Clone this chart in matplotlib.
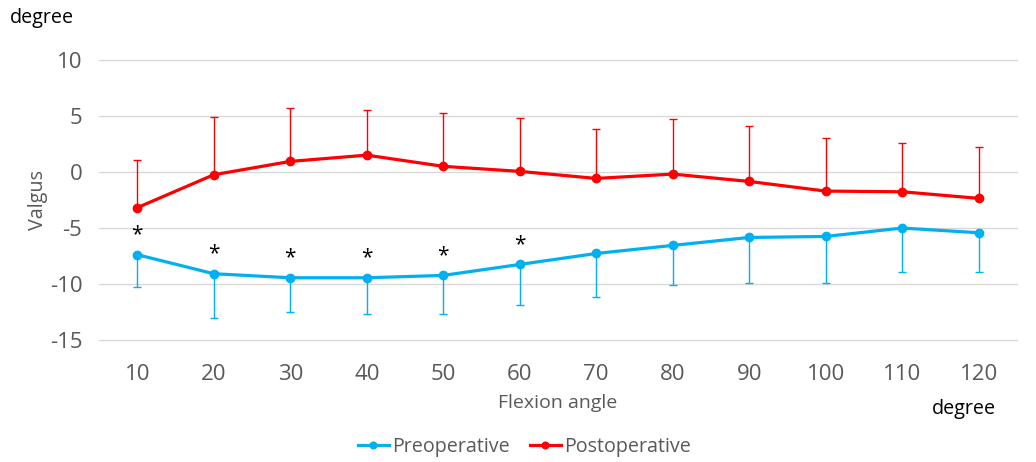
import numpy as np
import matplotlib.pyplot as plt

plt.rcParams['font.family'] = ['Open Sans', 'DejaVu Sans']
plt.rcParams['axes.unicode_minus'] = False

# Datos
angles = [10, 20, 30, 40, 50, 60, 70, 80, 90, 100, 110, 120]
pre_mean = [-7.38, -9.08, -9.44, -9.44, -9.23, -8.25, -7.27, -6.55, -5.84, -5.75, -5.0, -5.42]
pre_sd = [2.89, 3.99, 3.10, 3.24, 3.45, 3.63, 3.86, 3.58, 4.07, 4.20, 3.93, 3.51]
post_mean = [-3.18, -0.24, 0.95, 1.51, 0.51, 0.06, -0.57, -0.18, -0.84, -1.70, -1.76, -2.35]
post_sd = [4.22, 5.12, 4.79, 4.02, 4.76, 4.73, 4.37, 4.94, 4.91, 4.74, 4.31, 4.58]
signif = [10, 20, 30, 40, 50, 60]

blue = '#00B0F0'
red = '#FF0000'
grey = '#595959'

fig = plt.figure(figsize=(10.36, 4.62), dpi=100)
ax = fig.add_axes([0.0956, 0.264, 0.886, 0.606])

x = np.array(angles)
zeros = np.zeros(len(x))

# barras de error: solo hacia abajo (pre) y hacia arriba (post)
ax.errorbar(x, pre_mean, yerr=[pre_sd, zeros], fmt='none', ecolor=blue,
            elinewidth=1, capsize=3, capthick=1, zorder=2)
ax.errorbar(x, post_mean, yerr=[zeros, post_sd], fmt='none', ecolor=red,
            elinewidth=1, capsize=3, capthick=1, zorder=2)

ax.plot(x, pre_mean, color=blue, lw=2.3, marker='o', ms=6, label='Preoperative', zorder=3)
ax.plot(x, post_mean, color=red, lw=2.3, marker='o', ms=6, label='Postoperative', zorder=3)

# asteriscos de significancia
for a in signif:
    i = angles.index(a)
    ax.text(a, pre_mean[i] + 1.75, '*', ha='center', va='center', fontsize=15, color='black')

ax.set_xlim(5, 125)
ax.set_ylim(-15, 10)
ax.set_xticks(x)
ax.set_yticks([-15, -10, -5, 0, 5, 10])
ax.tick_params(length=0, labelsize=16, labelcolor=grey, pad=17)
ax.tick_params(axis='y', pad=12)
for yv in [-15, -10, -5, 0, 5, 10]:
    ax.axhline(yv, color='#D9D9D9', lw=1, zorder=0, clip_on=False)
for s in ax.spines.values():
    s.set_visible(False)

ax.set_ylabel('Valgus', fontsize=14.2, color=grey, labelpad=1)
ax.set_xlabel('Flexion angle', fontsize=14, color=grey, labelpad=7)

fig.text(0.010, 0.962, 'degree', fontsize=14.2, color='black', va='center')
fig.text(0.961, 0.114, 'degree', fontsize=14.2, color='black', va='center', ha='right')

fig.legend(loc='center', bbox_to_anchor=(0.506, 0.033), ncol=2, frameon=False,
           fontsize=14.2, labelcolor=grey, handlelength=1.6, handletextpad=0.15,
           columnspacing=1.0, markerscale=0.8)

fig.savefig('out.png', dpi=100)
